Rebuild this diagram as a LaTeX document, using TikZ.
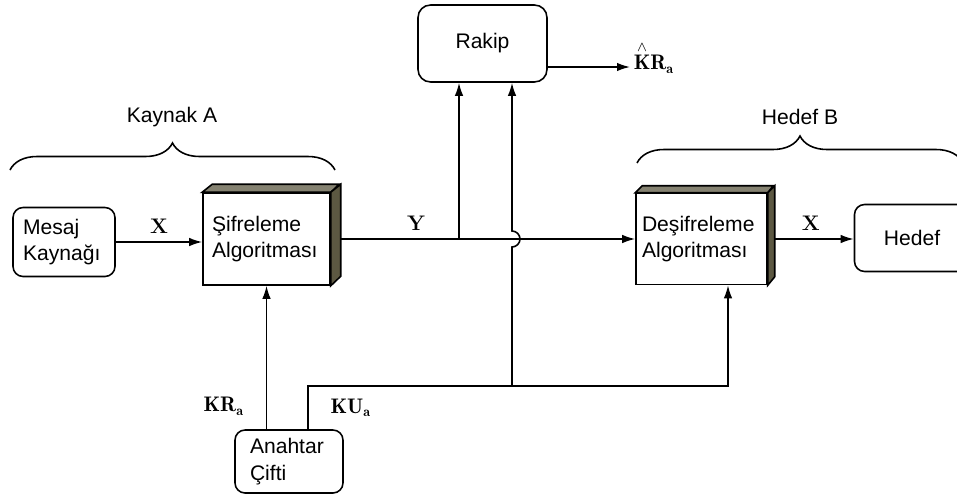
\documentclass[tikz,border=0pt]{standalone}
\usepackage{amsmath}
\usepackage{fontspec}
\setsansfont{Liberation Sans}
\usepackage{tikz}
\usetikzlibrary{positioning, arrows.meta, decorations.pathreplacing}
\usepackage{xcolor}
\definecolor{golge}{RGB}{92,88,66}

\begin{document}
\begin{tikzpicture}[
  x=0.02cm, y=-0.02cm,
  every node/.style={font=\sffamily\fontsize{12}{15.3}\selectfont},
  kutu/.style={draw, rounded corners=0.2cm, line width=0.9pt, fill=white},
  blok/.style={draw, line width=0.9pt, fill=white, align=left, inner ysep=0pt},
  yuz/.style={draw, line width=0.9pt, fill=golge},
  ok/.style={line width=0.9pt, -{Latex[length=0.26cm,width=0.17cm]}},
  etiket/.style={font=\rmfamily\bfseries\fontsize{12}{14}\selectfont, inner sep=1pt},
  parantez/.style={line width=0.9pt, decorate, decoration={brace, amplitude=0.54cm}}
]
\useasboundingbox (0,0) rectangle (957,497);

\node[kutu, minimum width=2.04cm, minimum height=1.38cm, text width=1.64cm, inner xsep=0.2cm, align=left] (mesaj) at (64,242) {Mesaj\\Kaynağı};
\node[blok, minimum height=1.84cm, text width=2.18cm, inner xsep=0.18cm] (sif) at (266.5,239) {Şifreleme\\Algoritması};
\node[blok, minimum height=1.82cm, text width=2.38cm, inner xsep=0.12cm] (desif) at (701.5,239) {Deşifreleme\\Algoritması};
\node[kutu, rounded corners=0.25cm, minimum width=2.58cm, minimum height=1.54cm] (rakip) at (482.5,43.5) {Rakip};
\node[kutu, minimum width=2.3cm, minimum height=1.34cm] (hedef) at (912,238) {Hedef};
\node[kutu, minimum width=2.16cm, minimum height=1.26cm, text width=1.56cm, inner xsep=0.3cm, align=left] (anahtar) at (289,461.5) {Anahtar\\Çifti};

% kaynak ve hedef parantezleri
\draw[parantez] (10,170) -- (335,170);
\node (kaynakA) at (172,117) {Kaynak A};
\draw[parantez] (637,163) -- (963,163);
\node (hedefB) at (800,117) {Hedef B};

% baglantilar
\draw[ok] (mesaj.east) -- (mesaj.east -| sif.west) node[etiket, midway, above=0.12cm] (x1) {X};
\draw[ok] (sif.east) -- (desif.west) node[etiket, pos=0.28, above=0.12cm] (y1) {Y};
\coordinate (rk1) at (459,239);
\draw[ok] (rk1) -- (rk1 |- rakip.south);
\coordinate (ku1) at (308,386);
\coordinate (ku2) at (512,386);
\coordinate (ku3) at (728,386);
\draw[ok] (ku1 |- anahtar.north) -- (ku1) node[etiket, midway, right=0.4cm] (kuEt) {$\mathbf{KU}_{\mathbf{a}}$} -- (ku3) -- (ku3 |- desif.south);
\coordinate (atla) at (ku2 |- sif.east);
\draw[ok] (ku2) -- ([yshift=-0.16cm]atla) arc[start angle=-90, end angle=90, radius=0.16cm] -- (rakip.south -| ku2);
\draw[ok] (anahtar.north -| sif.south) -- (sif.south) node[etiket, pos=0.16, left=0.4cm] (krEt) {$\mathbf{KR}_{\mathbf{a}}$};
\draw[ok] (desif.east) -- (desif.east -| hedef.west) node[etiket, midway, above=0.12cm] (x2) {X};
\coordinate (kucu) at (630,67);
\draw[ok] (rakip.east |- kucu) -- (kucu);
\node[etiket, anchor=south west, inner sep=2pt] (khat) at ([yshift=-0.2cm]kucu) {$\overset{\wedge}{\mathbf{K}}\mathbf{R}_{\mathbf{a}}$};

% kutularin golgeli yuzleri
\filldraw[yuz, fill=golge!75] (sif.north west) -- ++(10,-8) -- ++(127,0) -- (sif.north east) -- cycle;
\filldraw[yuz] (sif.north east) -- ++(10,-8) -- ++(0,92) -- (sif.south east) -- cycle;
\filldraw[yuz, fill=golge!75] (desif.north west) -- ++(7,-7) -- ++(131,0) -- (desif.north east) -- cycle;
\filldraw[yuz] (desif.north east) -- ++(7,-7) -- ++(0,91) -- (desif.south east) -- cycle;
\end{tikzpicture}
\end{document}
